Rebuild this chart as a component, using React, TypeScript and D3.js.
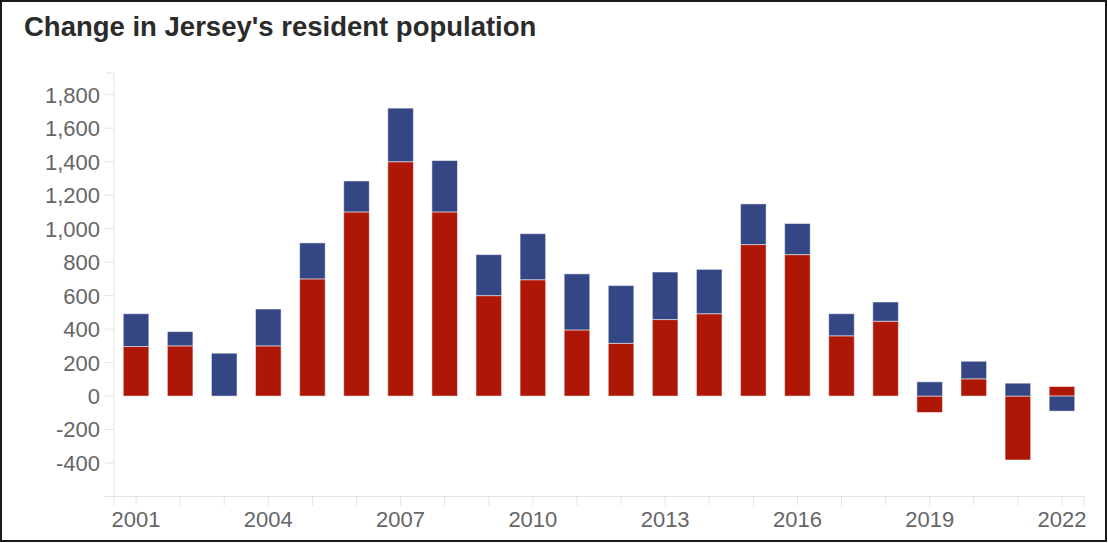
import React from "react";
import * as d3 from "d3";

const years = [
  "2001", "2002", "2003", "2004", "2005", "2006", "2007", "2008", "2009", "2010", "2011",
  "2012", "2013", "2014", "2015", "2016", "2017", "2018", "2019", "2020", "2021", "2022",
];
// red series (bottom of stack)
const netMigration = [
  296, 300, 0, 300, 700, 1100, 1400, 1100, 600, 695, 395,
  315, 457, 492, 905, 845, 360, 447, -98, 103, -382, 57,
];
// blue series (stacked on top)
const naturalGrowth = [
  196, 85, 256, 220, 215, 185, 320, 307, 245, 275, 335,
  345, 284, 265, 243, 186, 132, 115, 85, 105, 77, -90,
];
const yTickValues = [-400, -200, 0, 200, 400, 600, 800, 1000, 1200, 1400, 1600, 1800];
const xLabelYears = ["2001", "2004", "2007", "2010", "2013", "2016", "2019", "2022"];
const title = "Change in Jersey's resident population";

const W = 1108;
const H = 543;
const RED = "#ae1606";
const BLUE = "#344684";
const AXIS = "#e3e3e3";
const LABEL = "#666666";
const FONT = "'Liberation Sans', Arial, sans-serif";

export default function App() {
  const x = d3
    .scaleBand<string>()
    .domain(years)
    .range([114, 1084])
    .paddingInner(0.42)
    .paddingOuter(0.21);
  const y = d3.scaleLinear().domain([-600, 1930]).range([496.5, 73]);
  const fmt = (v: number) => d3.format(",")(v).replace("\u2212", "-");

  type Seg = { year: string; y0: number; y1: number; color: string; key: string };
  const segs: Seg[] = [];
  years.forEach((yr, i) => {
    let pos = 0;
    let neg = 0;
    const series = [
      { v: netMigration[i], c: RED, k: "r" },
      { v: naturalGrowth[i], c: BLUE, k: "b" },
    ];
    series.forEach((s) => {
      if (s.v === 0) return;
      if (s.v > 0) {
        segs.push({ year: yr, y0: pos, y1: pos + s.v, color: s.c, key: yr + s.k });
        pos += s.v;
      } else {
        segs.push({ year: yr, y0: neg, y1: neg + s.v, color: s.c, key: yr + s.k });
        neg += s.v;
      }
    });
  });

  const bw = x.bandwidth();
  const x0 = x.range()[0];
  const x1 = x.range()[1];
  const yBottom = y(-600);
  const yTop = y(1930);

  return (
    <svg
      width={W}
      height={H}
      style={{ position: "absolute", left: 0, top: 0, background: "#fff" }}
      fontFamily={FONT}
    >
      <rect x={0} y={0} width={W} height={H} fill="#fff" />
      <rect x={1} y={1} width={W - 3} height={H - 3} fill="none" stroke="#1a1a1a" strokeWidth={2} />
      <text x={24} y={36} fontSize={27.5} fontWeight={700} fill="#2b2b2b">
        {title}
      </text>

      {/* y axis */}
      <line x1={x0} x2={x0} y1={yTop} y2={yBottom + 9} stroke={AXIS} strokeWidth={1} />
      <line x1={x0 - 8} x2={x0} y1={yTop} y2={yTop} stroke={AXIS} strokeWidth={1} />
      {yTickValues.map((v) => (
        <g key={"yt" + v}>
          <line x1={x0 - 9} x2={x0} y1={y(v)} y2={y(v)} stroke={AXIS} strokeWidth={1} />
          <text
            x={100}
            y={y(v)}
            dy="0.36em"
            textAnchor="end"
            fontSize={22}
            fill={LABEL}
          >
            {fmt(v)}
          </text>
        </g>
      ))}

      {/* x axis */}
      <line x1={x0 - 10} x2={x1} y1={yBottom} y2={yBottom} stroke={AXIS} strokeWidth={1} />
      <line x1={x1} x2={x1} y1={yBottom} y2={yBottom + 9} stroke={AXIS} strokeWidth={1} />
      {years.map((yr) => {
        const cx = (x(yr) as number) + bw / 2;
        return (
          <line key={"xt" + yr} x1={cx} x2={cx} y1={yBottom} y2={yBottom + 9} stroke={AXIS} strokeWidth={1} />
        );
      })}
      {xLabelYears.map((yr) => (
        <text
          key={"xl" + yr}
          x={(x(yr) as number) + bw / 2}
          y={527}
          textAnchor="middle"
          fontSize={22}
          fill={LABEL}
        >
          {yr}
        </text>
      ))}

      {/* bars */}
      {segs.map((s) => {
        const top = Math.min(y(s.y0), y(s.y1));
        const h = Math.abs(y(s.y0) - y(s.y1));
        return (
          <rect
            key={s.key}
            x={x(s.year) as number}
            y={top}
            width={bw}
            height={h}
            fill={s.color}
            stroke="#ffffff"
            strokeOpacity={0.5}
            strokeWidth={1}
          />
        );
      })}
    </svg>
  );
}
